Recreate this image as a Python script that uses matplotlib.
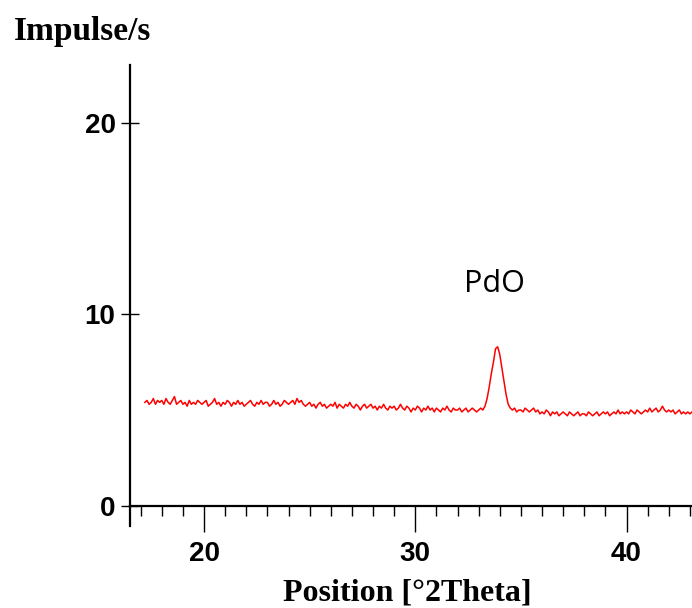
import matplotlib
matplotlib.use("Agg")
import matplotlib.pyplot as plt
import numpy as np
from matplotlib.ticker import MultipleLocator

# 2theta positions, 0.1 deg steps from 17.2 to 43.1
two_theta = np.round(np.arange(172, 432) / 10.0, 1)

# intensity (impulse/s), one row per degree
intensity = [
    5.4, 5.5, 5.3, 5.4, 5.6, 5.3, 5.5, 5.4,                      # 17.2-17.9
    5.5, 5.3, 5.6, 5.4, 5.3, 5.5, 5.7, 5.3, 5.4, 5.5,            # 18
    5.3, 5.4, 5.2, 5.5, 5.3, 5.4, 5.3, 5.5, 5.4, 5.3,            # 19
    5.4, 5.5, 5.2, 5.3, 5.4, 5.6, 5.3, 5.4, 5.2, 5.4,            # 20
    5.3, 5.5, 5.4, 5.2, 5.4, 5.3, 5.5, 5.3, 5.4, 5.2,            # 21
    5.3, 5.4, 5.5, 5.3, 5.2, 5.4, 5.3, 5.5, 5.3, 5.4,            # 22
    5.4, 5.2, 5.3, 5.5, 5.3, 5.4, 5.2, 5.3, 5.5, 5.4,            # 23
    5.3, 5.4, 5.5, 5.3, 5.6, 5.4, 5.5, 5.3, 5.2, 5.3,            # 24
    5.4, 5.2, 5.3, 5.1, 5.3, 5.4, 5.2, 5.3, 5.1, 5.2,            # 25
    5.3, 5.2, 5.4, 5.1, 5.3, 5.2, 5.1, 5.3, 5.2, 5.4,            # 26
    5.2, 5.1, 5.3, 5.2, 5.0, 5.2, 5.3, 5.1, 5.2, 5.3,            # 27
    5.1, 5.2, 5.0, 5.2, 5.1, 5.3, 5.1, 5.0, 5.2, 5.1,            # 28
    5.2, 5.0, 5.1, 5.3, 5.1, 5.0, 5.2, 5.1, 4.9, 5.1,            # 29
    5.0, 5.2, 5.1, 4.9, 5.1, 5.0, 5.2, 5.0, 5.1, 4.9,            # 30
    5.1, 5.0, 4.9, 5.1, 5.0, 5.2, 5.0, 4.9, 5.1, 5.0,            # 31
    5.0, 5.1, 4.9, 5.0, 5.1, 4.9, 5.0, 5.1, 5.0, 4.9,            # 32
    5.0, 5.1, 5.0, 5.2, 5.6, 6.2, 6.9, 7.5, 8.2, 8.3,            # 33 (PdO)
    7.9, 7.2, 6.5, 5.8, 5.3, 5.1, 5.0, 5.1, 4.9, 5.0,            # 34
    5.0, 4.9, 5.1, 5.0, 4.9, 5.0, 5.1, 4.9, 5.0, 4.8,            # 35
    4.9, 4.8, 5.0, 4.9, 4.7, 4.9, 4.8, 4.9, 4.7, 4.8,            # 36
    4.9, 4.8, 4.7, 4.9, 4.8, 4.7, 4.8, 4.9, 4.7, 4.8,            # 37
    4.8, 4.7, 4.9, 4.8, 4.7, 4.8, 4.9, 4.7, 4.8, 4.9,            # 38
    4.8, 4.9, 4.7, 4.8, 4.9, 4.8, 5.0, 4.8, 4.9, 4.8,            # 39
    4.9, 4.8, 5.0, 4.9, 4.8, 5.0, 4.9, 4.8, 4.9, 5.0,            # 40
    4.9, 5.1, 4.9, 5.0, 5.1, 4.9, 5.0, 5.2, 5.0, 4.9,            # 41
    5.0, 4.9, 5.0, 4.8, 4.9, 5.0, 4.8, 4.9, 4.8, 4.9,            # 42
    4.8, 4.9,                                                    # 43
]

x_ticks = [20, 30, 40]
y_ticks = [0, 10, 20]
peak_label = "PdO"
peak_pos = (33.75, 11.6)

fig = plt.figure(figsize=(6.92, 6.08), dpi=100)
ax = fig.add_axes([0.188, 0.168, 0.812, 0.725])

ax.plot(two_theta, intensity, color="#ff0000", lw=1.1)
ax.text(*peak_pos, peak_label, ha="center", va="center",
        fontsize=22, family="Open Sans")

ax.set_xlim(16.5, 43.1)
ax.set_ylim(0, 23)

for s in ("top", "right"):
    ax.spines[s].set_visible(False)
ax.spines["left"].set_linewidth(1.6)
ax.spines["bottom"].set_linewidth(1.6)
# the y axis line runs a bit below the x axis
ax.plot([0, 0], [-0.045, 0], transform=ax.transAxes, color="k",
        lw=1.6, clip_on=False)

ax.set_xticks(x_ticks)
ax.xaxis.set_minor_locator(MultipleLocator(1))
ax.set_yticks(y_ticks)
ax.tick_params(axis="x", which="major", direction="out", length=19, width=1,
               pad=6, labelsize=20)
ax.tick_params(axis="x", which="minor", direction="out", length=7, width=1)
ax.tick_params(axis="y", which="major", direction="inout", length=13, width=1,
               pad=4, labelsize=20)
for lbl in ax.get_xticklabels() + ax.get_yticklabels():
    lbl.set_fontweight("bold")
    lbl.set_family("Liberation Sans")

fig.text(0.02, 0.935, "Impulse/s", fontsize=24, fontweight="bold",
         family="Liberation Serif", ha="left", va="baseline")
fig.text(0.588, 0.013, "Position [°2Theta]", fontsize=23, fontweight="bold",
         family="Liberation Serif", ha="center", va="baseline")

fig.savefig("out.png", dpi=100)
